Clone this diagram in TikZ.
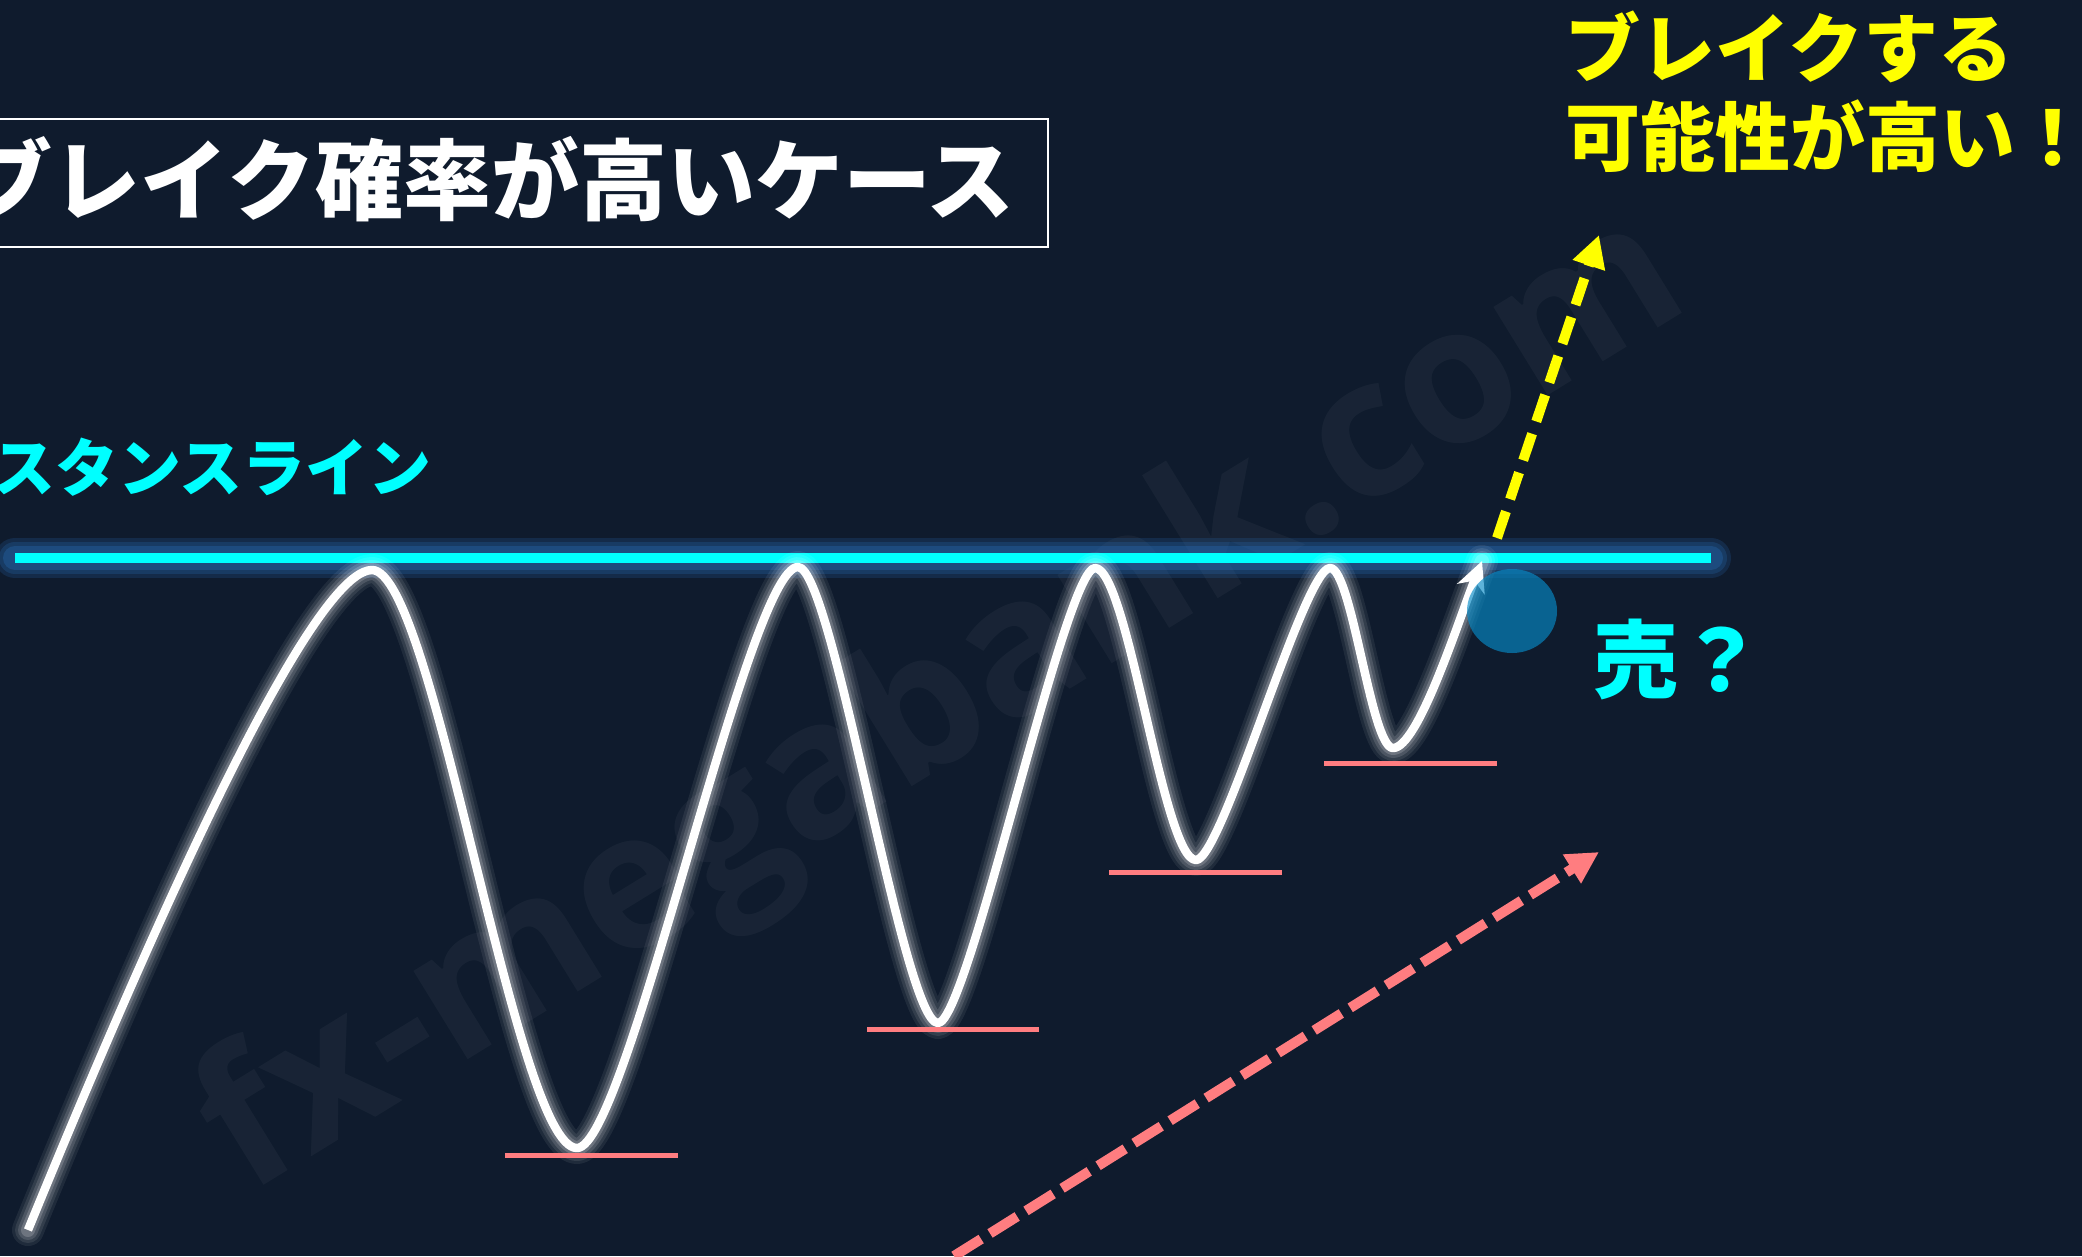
\documentclass[tikz,border=0pt]{standalone}
\usepackage{fontspec}
\newfontfamily\jp{Noto Sans CJK JP}
\newfontfamily\wmfont{Open Sans}
\usetikzlibrary{arrows.meta}
\definecolor{bg}{RGB}{15,27,45}
\definecolor{resist}{RGB}{0,255,255}
\definecolor{resglow}{RGB}{40,110,185}
\definecolor{pinkline}{RGB}{255,125,128}
\definecolor{ylw}{RGB}{255,255,0}
\definecolor{blob}{RGB}{7,139,199}
\tikzset{
  glowW/.style={white, line cap=round, line join=round},
  pricecurve/.style={white, line width=8.5pt, line cap=butt, line join=round},
  supportline/.style={pinkline, line width=5pt},
  jptext/.style={inner sep=0pt, font=\jp\bfseries},
}
\def\wave{(28,1230) .. controls (228,742) and (330,570) .. (372,570)
 .. controls (434,570) and (515,1148) .. (577,1148)
 .. controls (627,1148) and (748,567) .. (798,567)
 .. controls (833,567) and (903,1023) .. (938,1023)
 .. controls (968,1023) and (1065,568) .. (1095,568)
 .. controls (1128,568) and (1163,860) .. (1196,860)
 .. controls (1222,860) and (1304,568) .. (1330,568)
 .. controls (1352,568) and (1371,748) .. (1393,748)
 .. controls (1418,748) and (1458,622) .. (1482,561)}
\begin{document}
\begin{tikzpicture}[x=1pt,y=-1pt]
\useasboundingbox (0,0) rectangle (2082,1256);
\clip (0,0) rectangle (2082,1256);
\fill[bg] (0,0) rectangle (2082,1256);

% watermark
\node[rotate=31.6, inner sep=0pt, text=white, opacity=0.04,
      font=\wmfont\bfseries\fontsize{190}{190}\selectfont] (wm) at (945,708) {fx-megabank.com};

% resistance line with glow
\coordinate (rA) at (15,558);
\coordinate (rB) at (1711,558);
\foreach \w/\o in {40/0.2,32/0.24,24/0.32}{
  \draw[resglow, line width=\w pt, line cap=round, opacity=\o] (rA) -- (rB);
}
\draw[resist, line width=10pt] (rA) -- (rB);

% price curve glow
\foreach \w/\o in {32/0.07,26/0.09,20/0.13,14/0.18}{
  \draw[glowW, line width=\w pt, opacity=\o] \wave;
}
\draw[pricecurve, -{Stealth[length=30pt,width=29pt,inset=9pt]}] \wave;

% support lines
\draw[supportline] (505,1155) coordinate (s1a) -- (678,1155) coordinate (s1b);
\draw[supportline] (867,1029) coordinate (s2a) -- (1039,1029) coordinate (s2b);
\draw[supportline] (1109,872) coordinate (s3a) -- (1282,872) coordinate (s3b);
\draw[supportline] (1324,763) coordinate (s4a) -- (1497,763) coordinate (s4b);

% blue blob
\fill[blob, opacity=0.65] (1512,611) ellipse [x radius=45, y radius=42];

% yellow break arrow
\coordinate (yA) at (1497,538);
\coordinate (yB) at (1599,235);
\draw[ylw, line width=10pt, dash pattern=on 28pt off 13pt,
      -{Triangle[length=32pt,width=32pt]}] (yA) -- (yB);

% pink trend arrow
\coordinate (pA) at (954,1256);
\coordinate (pB) at (1599,852);
\draw[pinkline, line width=10pt, dash pattern=on 32pt off 10.5pt,
      -{Triangle[length=32pt,width=32pt]}] (pA) -- (pB);

% texts
\draw[white, line width=2pt] (-10,119) rectangle (1048,247);
\node[jptext, anchor=base east, text=white, font=\jp\bfseries\fontsize{88}{88}\selectfont]
  (title) at (1015,213) {ブレイク確率が高いケース};
\node[jptext, anchor=base east, text=resist, font=\jp\bfseries\fontsize{63}{63}\selectfont]
  (rlabel) at (432,491) {レジスタンスライン};
\node[jptext, anchor=base west, text=ylw, font=\jp\bfseries\fontsize{75}{75}\selectfont]
  (brk1) at (1565,76) {ブレイクする};
\node[jptext, anchor=base west, text=ylw, font=\jp\bfseries\fontsize{75}{75}\selectfont]
  (brk2) at (1565,165) {可能性が高い！};
\node[jptext, anchor=base west, text=resist, font=\jp\bfseries\fontsize{85}{85}\selectfont]
  (sell) at (1593,691) {売？};
\end{tikzpicture}
\end{document}
